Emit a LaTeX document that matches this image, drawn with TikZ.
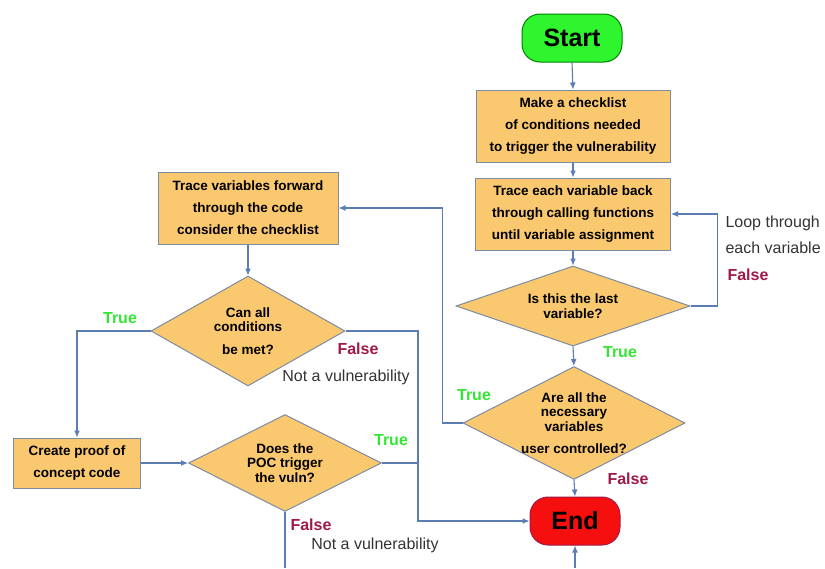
\documentclass[tikz,border=0pt]{standalone}
\usepackage{fontspec}
\setmainfont{Liberation Sans}
\usepackage{tikz}
\usetikzlibrary{positioning, arrows.meta, shapes.geometric, calc}

\definecolor{boxfill}{HTML}{FAC86E}
\definecolor{boxline}{HTML}{7C8CA3}
\definecolor{linkblue}{HTML}{5B7DB3}
\definecolor{truegreen}{HTML}{33E633}
\definecolor{falsered}{HTML}{A01848}
\definecolor{startgreen}{HTML}{2EF52E}
\definecolor{endred}{HTML}{F50F0F}
\definecolor{notegray}{HTML}{333333}

\tikzset{
    process/.style={draw=boxline, fill=boxfill, line width=1pt, align=center,
        inner sep=0pt, font=\bfseries\fontsize{13.5}{22}\selectfont},
    decision/.style={diamond, draw=boxline, fill=boxfill, line width=1pt, inner sep=0pt},
    dtext/.style={align=center, font=\bfseries\fontsize{13.5}{14.5}\selectfont},
    terminal/.style={rounded corners=18pt, line width=1pt, inner sep=0pt,
        minimum height=48pt, font=\bfseries\fontsize{25}{25}\selectfont},
    link/.style={draw=linkblue, line width=1.1pt},
    linkarrow/.style={link, -{Latex[length=7pt,width=6pt]}},
    yes/.style={text=truegreen, font=\bfseries\fontsize{16}{16}\selectfont},
    no/.style={text=falsered, font=\bfseries\fontsize{16}{16}\selectfont},
    note/.style={text=notegray, align=left, font=\fontsize{16}{26}\selectfont}
}

\begin{document}
\begin{tikzpicture}[x=1pt, y=-1pt]
    \useasboundingbox (0,0) rectangle (825,568);

    % right column
    \node[terminal, draw=green!50!black, fill=startgreen, minimum width=100pt] (start) at (572,38) {Start};
    \node[process, minimum width=194pt, minimum height=72pt] (checklist) at (573,126)
        {Make a checklist\\of conditions needed\\to trigger the vulnerability};
    \node[process, minimum width=195pt, minimum height=72pt] (traceback) at (573,214)
        {Trace each variable back\\through calling functions\\until variable assignment};
    \node[decision, minimum width=234pt, minimum height=80pt,
        label={[dtext]center:{Is this the last\\variable?}}] (lastvar) at (573,306) {};
    \node[decision, minimum width=222pt, minimum height=113pt,
        label={[dtext]center:{Are all the\\necessary\\variables\\[8pt]user controlled?}}] (userctl) at (574,423) {};
    \node[terminal, draw=falsered, fill=endred, minimum width=90pt] (stop) at (575,521) {End};

    % left column
    \node[process, minimum width=180pt, minimum height=72pt] (forward) at (248,208)
        {Trace variables forward\\through the code\\consider the checklist};
    \node[decision, minimum width=194pt, minimum height=110pt,
        label={[dtext]center:{Can all\\conditions\\[8pt]be met?}}] (canmet) at (248,331) {};
    \node[process, minimum width=127pt, minimum height=50pt] (poc) at (77,463)
        {Create proof of\\concept code};
    \node[decision, minimum width=193pt, minimum height=97pt,
        label={[dtext]center:{Does the\\POC trigger\\the vuln?}}] (trigger) at (285,463) {};

    \coordinate (bend) at (418,521);
    \coordinate (offpage1) at (285,568);
    \coordinate (offpage2) at (575,568);

    % straight arrows
    \foreach \from/\to in {start/checklist, checklist/traceback, traceback/lastvar,
        lastvar/userctl, userctl/stop, forward/canmet}
    {
        \draw[linkarrow] (\from.south) -- (\to.north);
    }

    % loops and branches
    \draw[linkarrow] (lastvar.east) -- ++(27,0) |- (traceback.east);
    \draw[linkarrow] (userctl.west) -- ++(-20,0) |- (forward.east);
    \draw[linkarrow] (canmet.west) -| (poc.north);
    \draw[linkarrow] (canmet.east) -| (bend) -- (stop.west);
    \draw[linkarrow] (poc.east) -- (trigger.west);
    \draw[link] (trigger.east) -- (bend |- trigger.east);
    \draw[link] (trigger.south) -- (offpage1);
    \draw[linkarrow] (offpage2) -- (stop.south);

    % branch labels
    \node[note, anchor=west] (looptext) at (722,235) {Loop through\\each variable};
    \node[no] (lastno) at (748,275) {False};
    \node[yes] (lastyes) at (620,352) {True};
    \node[yes] (ctlyes) at (474,395) {True};
    \node[no] (ctlno) at (628,479) {False};
    \node[yes] (metyes) at (120,318) {True};
    \node[no] (metno) at (358,349) {False};
    \node[note] (metnote) at (346,377) {Not a vulnerability};
    \node[yes] (pocyes) at (391,440) {True};
    \node[no] (pocno) at (311,525) {False};
    \node[note] (pocnote) at (375,545) {Not a vulnerability};
\end{tikzpicture}
\end{document}
